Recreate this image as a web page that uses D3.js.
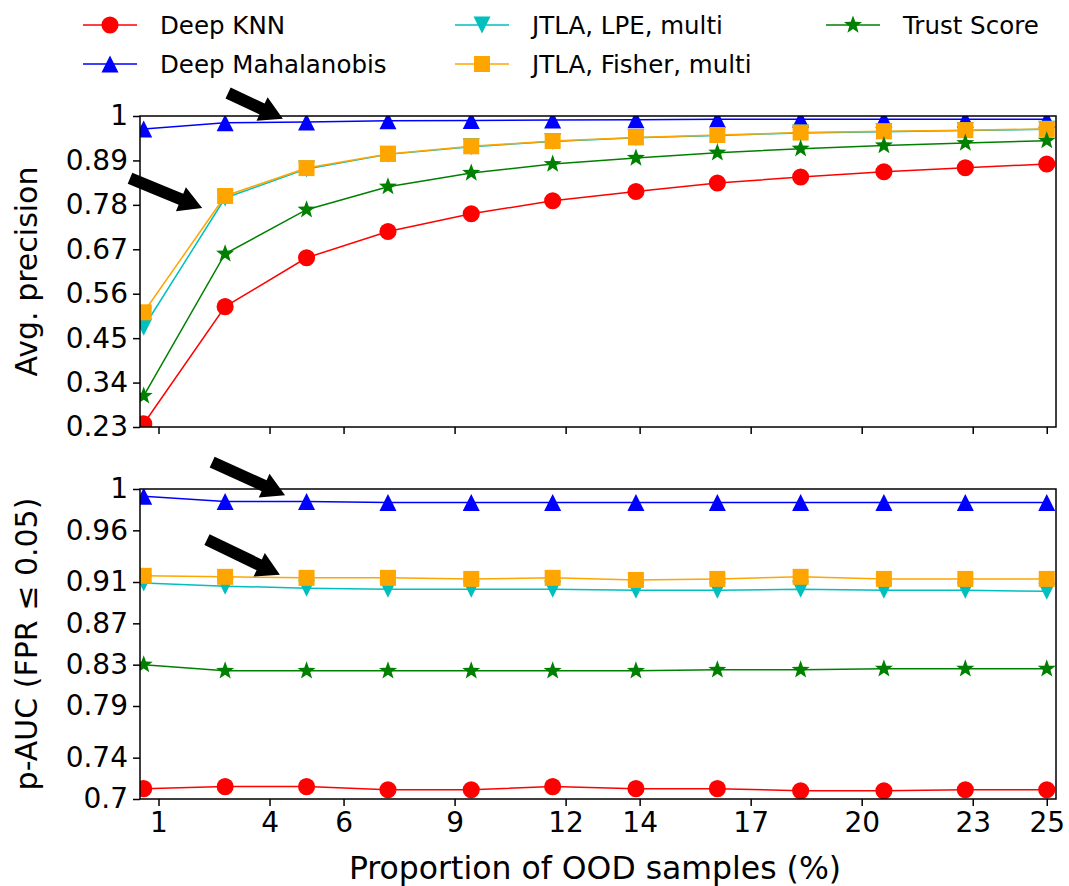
<!DOCTYPE html>
<html>
<head>
<meta charset="utf-8">
<script src="https://cdn.jsdelivr.net/npm/d3@7/dist/d3.min.js"></script>
<style>
  body { margin: 0; background: #fff; }
  svg text { font-family: "DejaVu Sans", sans-serif; fill: #000; }
  .axis path, .axis line { stroke: #000; stroke-width: 1.5; }
  .axis text { font-size: 28px; font-family: "DejaVu Sans", sans-serif; }
</style>
</head>
<body>
<svg width="1069" height="886"></svg>
<script>
// proportion of OOD samples (%)
var xValues = [0.6, 2.8, 5.0, 7.2, 9.45, 11.65, 13.9, 16.1, 18.35, 20.6, 22.8, 25.0];

var seriesNames = ['Deep KNN', 'Deep Mahalanobis', 'JTLA, LPE, multi', 'JTLA, Fisher, multi', 'Trust Score'];
var seriesColors = ['#ff0000', '#0000ff', '#00bfbf', '#ffa500', '#008000'];
var seriesMarkers = ['circle', 'triangleUp', 'triangleDown', 'square', 'star'];

// top panel: average precision
var apKnn = [0.238, 0.528, 0.649, 0.714, 0.758, 0.790, 0.813, 0.834, 0.849, 0.862, 0.872, 0.881];
var apMaha = [0.968, 0.983, 0.985, 0.988, 0.989, 0.990, 0.991, 0.992, 0.992, 0.992, 0.992, 0.992];
var apLpe = [0.477, 0.797, 0.869, 0.905, 0.924, 0.937, 0.946, 0.952, 0.958, 0.961, 0.964, 0.967];
var apFisher = [0.514, 0.802, 0.871, 0.906, 0.925, 0.938, 0.947, 0.953, 0.959, 0.962, 0.965, 0.968];
var apTrust = [0.307, 0.659, 0.768, 0.825, 0.859, 0.881, 0.896, 0.909, 0.919, 0.927, 0.933, 0.939];

// bottom panel: partial AUC (FPR <= 0.05)
var paucKnn = [0.710, 0.712, 0.712, 0.709, 0.709, 0.712, 0.710, 0.710, 0.708, 0.708, 0.709, 0.709];
var paucMaha = [0.993, 0.988, 0.988, 0.987, 0.987, 0.987, 0.987, 0.987, 0.987, 0.987, 0.987, 0.987];
var paucLpe = [0.909, 0.906, 0.904, 0.903, 0.903, 0.903, 0.902, 0.902, 0.903, 0.902, 0.902, 0.901];
var paucFisher = [0.916, 0.915, 0.914, 0.914, 0.913, 0.914, 0.912, 0.913, 0.915, 0.913, 0.913, 0.913];
var paucTrust = [0.830, 0.824, 0.824, 0.824, 0.824, 0.824, 0.824, 0.825, 0.825, 0.826, 0.826, 0.826];

var xTicks = [1, 4, 6, 9, 12, 14, 17, 20, 23, 25];
var apTicks = [0.23, 0.34, 0.45, 0.56, 0.67, 0.78, 0.89, 1.0];
var paucTicks = [0.7, 0.74, 0.79, 0.83, 0.87, 0.91, 0.96, 1.0];

// annotation arrows, [xTail, yTail, xTip, yTip] in data units
var apArrows = [[2.88, 1.057, 4.36, 0.993], [0.23, 0.846, 2.18, 0.772]];
var paucArrows = [[2.45, 1.026, 4.42, 0.994], [2.31, 0.951, 4.28, 0.917]];

var svg = d3.select('svg');

var plotL = 140, plotR = 1056;
var xScale = d3.scaleLinear().domain([0.5, 25.25]).range([plotL, plotR]);

var panels = [
    {id: 'ap', top: 116, bottom: 427, domain: [0.23, 1.0], ticks: apTicks,
     series: [apKnn, apMaha, apLpe, apFisher, apTrust], arrows: apArrows,
     label: 'Avg. precision', fmt: function(d) { return d === 1 ? '1' : d3.format('.2f')(d); }},
    {id: 'pauc', top: 489, bottom: 799, domain: [0.7, 1.0], ticks: paucTicks,
     series: [paucKnn, paucMaha, paucLpe, paucFisher, paucTrust], arrows: paucArrows,
     label: 'p-AUC (FPR \u2264 0.05)', fmt: function(d) { return d === 1 ? '1' : (d === 0.7 ? '0.7' : d3.format('.2f')(d)); }}
];

// marker paths centred at 0,0
function markerPath(type) {
    if (type === 'circle') return d3.symbol(d3.symbolCircle, 230)();
    if (type === 'square') return 'M-8,-8H8V8H-8Z';
    if (type === 'triangleUp') return 'M0,-8.5L8.5,8.5L-8.5,8.5Z';
    if (type === 'triangleDown') return 'M0,8.5L8.5,-8.5L-8.5,-8.5Z';
    // five point star
    var pts = [];
    for (var i = 0; i < 10; i++) {
        var r = i % 2 === 0 ? 9.5 : 3.9;
        var a = -Math.PI / 2 + i * Math.PI / 5;
        pts.push([r * Math.cos(a), r * Math.sin(a)]);
    }
    return 'M' + pts.join('L') + 'Z';
}

function arrowPath(x0, y0, x1, y1) {
    var dx = x1 - x0, dy = y1 - y0;
    var len = Math.sqrt(dx * dx + dy * dy);
    var ux = dx / len, uy = dy / len;
    var nx = -uy, ny = ux;
    var sw = 6, hw = 13, hl = 23;
    var bx = x1 - ux * hl, by = y1 - uy * hl;
    var p = [
        [x0 + nx * sw, y0 + ny * sw],
        [bx + nx * sw, by + ny * sw],
        [bx + nx * hw, by + ny * hw],
        [x1, y1],
        [bx - nx * hw, by - ny * hw],
        [bx - nx * sw, by - ny * sw],
        [x0 - nx * sw, y0 - ny * sw]
    ];
    return 'M' + p.join('L') + 'Z';
}

panels.forEach(function(panel) {
    var yScale = d3.scaleLinear().domain(panel.domain).range([panel.bottom, panel.top]);
    var g = svg.append('g').attr('class', 'panel-' + panel.id);

    g.append('clipPath').attr('id', 'clip-' + panel.id)
        .append('rect')
        .attr('x', plotL).attr('y', panel.top)
        .attr('width', plotR - plotL).attr('height', panel.bottom - panel.top);

    // axes
    var yAxis = d3.axisLeft(yScale).tickValues(panel.ticks).tickFormat(panel.fmt)
        .tickSize(7).tickPadding(5).tickSizeOuter(0);
    g.append('g').attr('class', 'axis')
        .attr('transform', 'translate(' + plotL + ',0)')
        .call(yAxis)
        .call(function(a) { a.select('.domain').remove(); });

    var xAxis = d3.axisBottom(xScale).tickValues(xTicks).tickFormat(d3.format('d'))
        .tickSize(7).tickPadding(6).tickSizeOuter(0);
    var xg = g.append('g').attr('class', 'axis')
        .attr('transform', 'translate(0,' + panel.bottom + ')')
        .call(xAxis)
        .call(function(a) { a.select('.domain').remove(); });
    if (panel.id === 'ap') xg.selectAll('text').remove();

    // data
    var plot = g.append('g').attr('clip-path', 'url(#clip-' + panel.id + ')');
    var line = d3.line()
        .x(function(d, i) { return xScale(xValues[i]); })
        .y(function(d) { return yScale(d); });

    panel.series.forEach(function(vals, s) {
        var sg = plot.append('g');
        sg.append('path')
            .attr('d', line(vals))
            .attr('fill', 'none')
            .attr('stroke', seriesColors[s])
            .attr('stroke-width', 1.5);
        sg.selectAll('.mk')
            .data(vals)
            .enter()
            .append('path')
            .attr('class', 'mk')
            .attr('d', markerPath(seriesMarkers[s]))
            .attr('fill', seriesColors[s])
            .attr('transform', function(d, i) {
                return 'translate(' + [xScale(xValues[i]), yScale(d)] + ')';
            });
    });

    // frame
    g.append('rect')
        .attr('x', plotL).attr('y', panel.top)
        .attr('width', plotR - plotL).attr('height', panel.bottom - panel.top)
        .attr('fill', 'none').attr('stroke', '#000').attr('stroke-width', 1.5);

    // arrows
    g.selectAll('.arrow')
        .data(panel.arrows)
        .enter()
        .append('path')
        .attr('class', 'arrow')
        .attr('fill', '#000')
        .attr('d', function(a) {
            return arrowPath(xScale(a[0]), yScale(a[1]), xScale(a[2]), yScale(a[3]));
        });

    // y label
    g.append('text')
        .attr('transform', 'translate(' + [37, (panel.top + panel.bottom) / 2] + ')rotate(-90)')
        .attr('text-anchor', 'middle')
        .style('font-size', '30px')
        .text(panel.label);
});

svg.append('text')
    .attr('x', (plotL + plotR) / 2 - 3)
    .attr('y', 879)
    .attr('text-anchor', 'middle')
    .style('font-size', '31.5px')
    .text('Proportion of OOD samples (%)');

// legend, column-major with two rows
var legendCols = [83, 455, 826];
var legendRows = [25, 64];
var legend = svg.append('g').attr('class', 'legend');
seriesNames.forEach(function(name, i) {
    var lx = legendCols[Math.floor(i / 2)];
    var ly = legendRows[i % 2];
    var item = legend.append('g').attr('transform', 'translate(' + [lx, ly] + ')');
    item.append('line')
        .attr('x1', 0).attr('x2', 54).attr('y1', 0).attr('y2', 0)
        .attr('stroke', seriesColors[i]).attr('stroke-width', 1.5);
    item.append('path')
        .attr('d', markerPath(seriesMarkers[i]))
        .attr('fill', seriesColors[i])
        .attr('transform', 'translate(27,0)');
    item.append('text')
        .attr('x', 77).attr('y', 9)
        .style('font-size', '24.5px')
        .text(name);
});
</script>
</body>
</html>
